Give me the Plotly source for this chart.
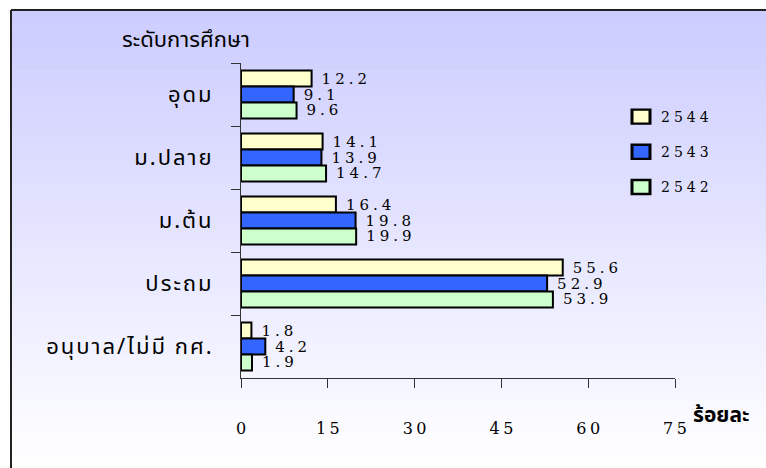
import plotly.graph_objects as go

# Education level share (percent) by year
levels = ["อุดม", "ม.ปลาย", "ม.ต้น", "ประถม", "อนุบาล/ไม่มี กศ."]
years = ["2544", "2543", "2542"]
v2544 = [12.2, 14.1, 16.4, 55.6, 1.8]
v2543 = [9.1, 13.9, 19.8, 52.9, 4.2]
v2542 = [9.6, 14.7, 19.9, 53.9, 1.9]
x_ticks = [0, 15, 30, 45, 60, 75]

bar_colors = ["#FFFFCC", "#3366FF", "#CCFFCC"]
num_font = "DejaVu Serif, Liberation Serif, serif"
thai_font = "Noto Sans Thai, Tahoma, DejaVu Sans, sans-serif"

W, H = 766, 468
L, R, T, B = 241, 91, 63, 90
pw, ph = W - L - R, H - T - B


def px_x(p):
    return (p - L) / pw


def px_y(p):
    return (H - B - p) / ph


fig = go.Figure()

for name, vals, col in zip(years, [v2544, v2543, v2542], bar_colors):
    fig.add_trace(go.Bar(
        y=levels, x=vals, name=name, orientation="h",
        marker=dict(color=col, line=dict(color="black", width=2)),
        text=[f"{v:.1f}" for v in vals], textposition="outside",
        constraintext="none",
        textfont=dict(family=num_font, size=15, color="black"),
        cliponaxis=False, legendgroup=name,
    ))

# gradient background inside the frame
shapes = []
top, bottom = 10, 470
n = 60
c0 = (204, 204, 255)
c1 = (255, 255, 255)
for i in range(n):
    f = i / (n - 1)
    col = tuple(round(a + (b - a) * f) for a, b in zip(c0, c1))
    y0 = top + (bottom - top) * i / n
    y1 = top + (bottom - top) * (i + 1) / n
    shapes.append(dict(type="rect", xref="paper", yref="paper", layer="below",
                       x0=px_x(11), x1=px_x(770), y0=px_y(y1 + 0.5), y1=px_y(y0),
                       fillcolor="rgb(%d,%d,%d)" % col, line=dict(width=0)))
# frame
shapes.append(dict(type="line", xref="paper", yref="paper", x0=px_x(11), x1=px_x(11),
                   y0=px_y(10), y1=px_y(475), line=dict(color="#222", width=2)))
shapes.append(dict(type="line", xref="paper", yref="paper", x0=px_x(11), x1=px_x(775),
                   y0=px_y(10), y1=px_y(10), line=dict(color="#222", width=2)))

fig.update_layout(
    width=W, height=H,
    margin=dict(l=L, r=R, t=T, b=B, pad=0),
    paper_bgcolor="white", plot_bgcolor="rgba(0,0,0,0)",
    barmode="group", bargap=0.24, bargroupgap=0,
    shapes=shapes,
    showlegend=True,
    legend=dict(x=px_x(621), y=px_y(101), xanchor="left", yanchor="top",
                bgcolor="rgba(0,0,0,0)", tracegroupgap=14,
                font=dict(family=num_font, size=14, color="black"),
                itemwidth=30),
    xaxis=dict(range=[0, 75], tickvals=x_ticks, showgrid=False, zeroline=False,
               showline=True, linecolor="#333", linewidth=1,
               ticks="outside", ticklen=9, tickcolor="#333",
               ticklabelstandoff=27,
               tickfont=dict(family=num_font, size=16, color="black")),
    yaxis=dict(categoryorder="array", categoryarray=levels, autorange="reversed",
               showgrid=False, showline=True, linecolor="#333", linewidth=1,
               ticks="outside", ticklen=9, tickcolor="#333", tickson="boundaries",
               ticklabelstandoff=24,
               tickfont=dict(family=thai_font, size=22, color="black")),
    annotations=[
        dict(text="ระดับการศึกษา", xref="paper", yref="paper", x=px_x(186), y=px_y(40),
             xanchor="center", yanchor="middle", showarrow=False,
             font=dict(family=thai_font, size=22, color="black")),
        dict(text="ร้อยละ", xref="paper", yref="paper", x=px_x(721), y=px_y(415),
             xanchor="center", yanchor="middle", showarrow=False,
             font=dict(family=thai_font, size=21, color="black", weight="bold")),
    ],
)

# drop the page margin, widen letter spacing like the original typeface,
# and enlarge the legend swatches
post = """
document.body.style.margin = '0';
document.documentElement.style.overflow = 'hidden';
var gd = document.getElementById('{plot_id}');
gd.querySelectorAll('.legend [clip-path]').forEach(function(e) { e.removeAttribute('clip-path'); });
gd.querySelectorAll('.legendpoints path').forEach(function(p) {
  p.setAttribute('transform', (p.getAttribute('transform') || '') + ' scale(1.5,1.17)');
});
function spread(sel, ls, shift) {
  gd.querySelectorAll(sel).forEach(function(t) {
    t.style.letterSpacing = ls + 'px';
    var x = parseFloat(t.getAttribute('x') || 0);
    t.setAttribute('x', x + shift(t, ls));
  });
}
spread('text.bartext', 4, function(t, ls) { return t.textContent.length * ls / 2 + 7; });
spread('.xtick text', 3.5, function(t, ls) { return ls / 2; });
spread('.ytick text', 2, function(t, ls) { return ls; });
spread('.legendtext', 4, function(t, ls) { return 0; });
"""

fig.write_html("out.html", post_script=post, config={"displayModeBar": False})
